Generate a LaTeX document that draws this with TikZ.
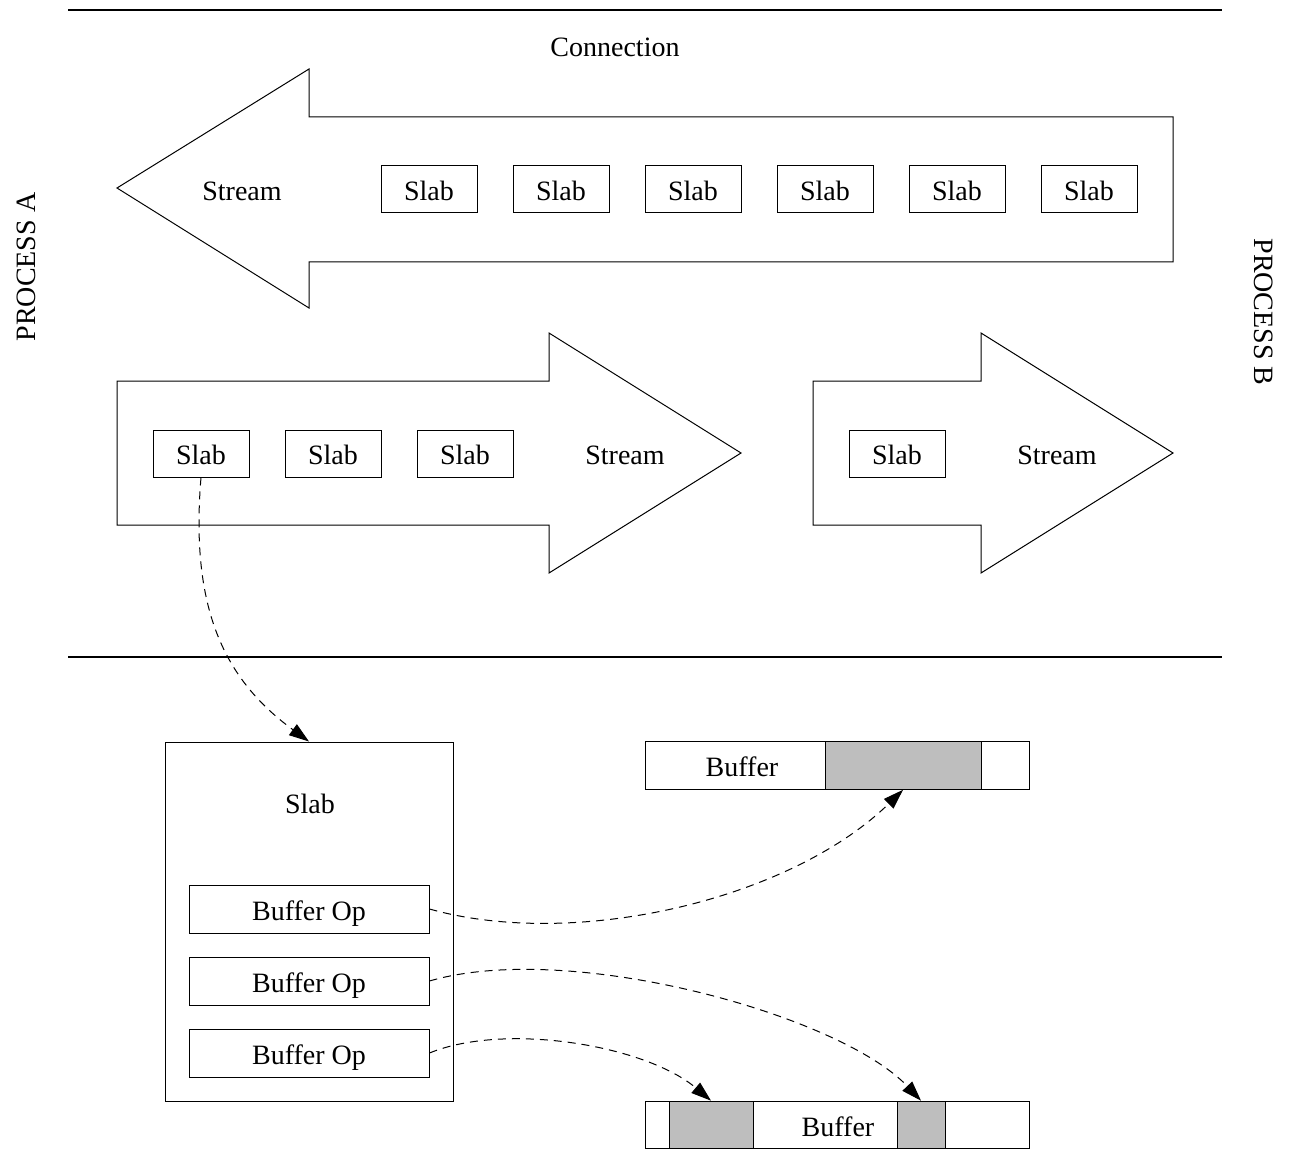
\documentclass[tikz,border=0pt]{standalone}
\usepackage{fontspec}
\setmainfont{Liberation Serif}
\usetikzlibrary{arrows.meta}
\definecolor{fillgray}{RGB}{190,190,190}
\begin{document}
\begin{tikzpicture}[x=0.75pt,y=-0.75pt,
  font=\fontsize{21}{25}\selectfont,
  every node/.style={text height=16.5pt, text depth=0pt},
  outline/.style={draw, line width=0.75pt, line join=miter},
  slabbox/.style={outline, minimum width=72pt, minimum height=35.25pt, inner sep=0pt},
  opbox/.style={outline, minimum width=180pt, minimum height=36pt, inner sep=0pt},
  bufbox/.style={outline, minimum width=288pt, minimum height=35.75pt, inner sep=0pt},
  graybox/.style={outline, fill=fillgray, minimum height=35.75pt, inner sep=0pt},
  label/.style={inner sep=0pt},
  flow/.style={line width=0.75pt, dash pattern=on 6pt off 4.5pt, -{Triangle[length=15pt,width=10pt]}},
  separator/.style={line width=1.5pt}]
\useasboundingbox (0,0) rectangle (1290,1152);

% separators
\draw[separator] (68,10) -- (1222,10);
\draw[separator] (68,657) -- (1222,657);

% labels
\node[label] (conn) at (615,46) {Connection};
\node[label, rotate=90] (procA) at (25,267) {PROCESS A};
\node[label, rotate=-90] (procB) at (1265,312) {PROCESS B};

% top stream arrow (leftwards)
\draw[outline] (117,188) -- (309,69) -- (309,117) -- (1173,117) -- (1173,262) -- (309,262) -- (309,308) -- cycle;
\node[label] (st1) at (242,189.5) {Stream};
\foreach \i/\x in {1/429,2/561,3/693,4/825,5/957,6/1089}
  \node[slabbox] (t\i) at (\x,189.5) {Slab};

% middle stream arrow 1 (rightwards)
\draw[outline] (117,381) -- (549,381) -- (549,333) -- (741,453) -- (549,573) -- (549,525) -- (117,525) -- cycle;
\node[slabbox] (s1) at (201,453.5) {Slab};
\node[slabbox] (s2) at (333,453.5) {Slab};
\node[slabbox] (s3) at (465,453.5) {Slab};
\node[label] (st2) at (625,453.5) {Stream};

% middle stream arrow 2 (rightwards)
\draw[outline] (813,381) -- (981,381) -- (981,333) -- (1173,453) -- (981,573) -- (981,525) -- (813,525) -- cycle;
\node[slabbox] (s4) at (897,453.5) {Slab};
\node[label] (st3) at (1057,453.5) {Stream};

% big slab
\node[outline, minimum width=216pt, minimum height=269.25pt, inner sep=0pt] (bigslab) at (309,921.5) {};
\node[label] (bigslabtext) at (310,802) {Slab};
\node[opbox] (op1) at (309,909) {Buffer Op};
\node[opbox] (op2) at (309,981) {Buffer Op};
\node[opbox] (op3) at (309,1053) {Buffer Op};

% top buffer
\node[bufbox] (buftop) at (837,765.5) {};
\node[graybox, minimum width=117pt] (tg) at (903,765.5) {};
\node[label] (buftoptext) at (742,765.5) {Buffer};

% bottom buffer
\node[bufbox] (bufbot) at (837,1125) {};
\node[graybox, minimum width=63pt] (bg1) at (711,1125) {};
\node[graybox, minimum width=36pt] (bg2) at (921,1125) {};
\node[label] (bufbottext) at (838,1125.5) {Buffer};

% connectors
\draw[flow] (s1.south) .. controls (190,610) and (225,680) .. (bigslab.north);
\draw[flow] (op1.east) .. controls (575,950) and (790,900) .. (tg.south);
\draw[flow] (op2.east) .. controls (570,940) and (840,1015) .. (bg2.north);
\draw[flow] (op3.east) .. controls (505,1022) and (645,1045) .. (bg1.north);
\end{tikzpicture}
\end{document}
